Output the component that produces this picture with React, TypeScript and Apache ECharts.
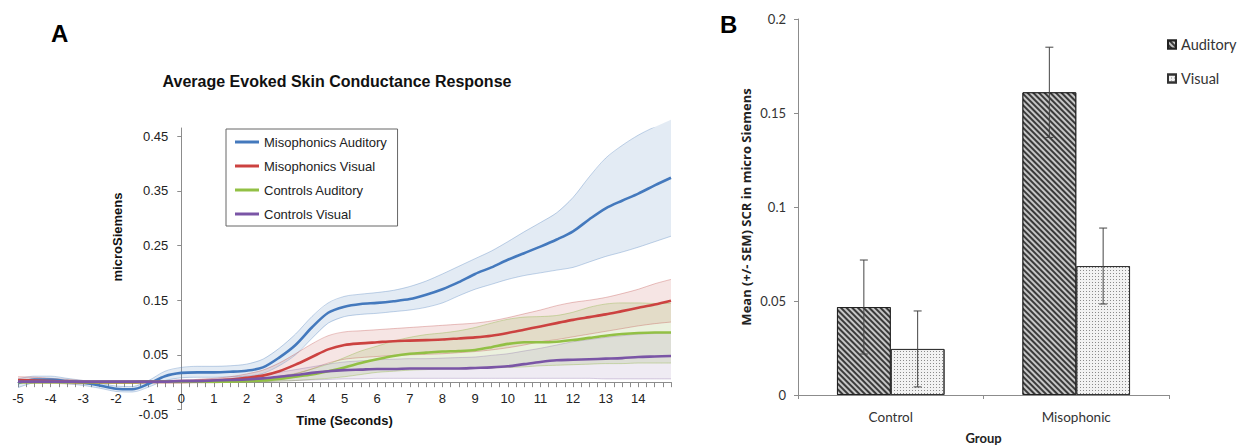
import React, { useEffect, useRef } from 'react';
import * as echarts from 'echarts';

// ---------- Panel A data (seconds, microSiemens) ----------
const time = [-5, -4.5, -4, -3.5, -3, -2.5, -2, -1.5, -1, -0.5, 0, 0.5, 1, 1.5, 2, 2.5, 3, 3.5, 4, 4.5, 5, 5.5, 6, 6.5, 7, 7.5, 8, 8.5, 9, 9.5, 10, 10.5, 11, 11.5, 12, 12.5, 13, 13.5, 14, 14.5, 15];

const misoAud = [-0.002, 0.005, 0.005, 0.002, -0.001, -0.006, -0.012, -0.013, -0.003, 0.011, 0.017, 0.018, 0.018, 0.019, 0.021, 0.027, 0.045, 0.068, 0.1, 0.127, 0.138, 0.143, 0.145, 0.148, 0.152, 0.16, 0.17, 0.183, 0.198, 0.21, 0.224, 0.236, 0.248, 0.261, 0.276, 0.298, 0.318, 0.332, 0.345, 0.36, 0.374];
const misoAudHigh = [0.006, 0.011, 0.011, 0.007, 0.003, -0.002, -0.007, -0.008, 0.003, 0.02, 0.027, 0.029, 0.029, 0.03, 0.033, 0.042, 0.062, 0.088, 0.12, 0.145, 0.157, 0.161, 0.164, 0.168, 0.175, 0.185, 0.198, 0.212, 0.226, 0.24, 0.257, 0.275, 0.292, 0.31, 0.338, 0.376, 0.41, 0.433, 0.452, 0.467, 0.48];
const misoAudLow = [-0.01, -0.001, 0.0, -0.003, -0.006, -0.011, -0.017, -0.018, -0.009, 0.003, 0.008, 0.009, 0.009, 0.01, 0.011, 0.016, 0.03, 0.05, 0.08, 0.108, 0.12, 0.124, 0.126, 0.129, 0.132, 0.137, 0.145, 0.158, 0.17, 0.179, 0.188, 0.195, 0.2, 0.205, 0.21, 0.22, 0.23, 0.238, 0.247, 0.257, 0.267];

const misoVis = [0.004, 0.003, 0.002, 0.001, 0.0, 0.0, 0.0, 0.0, 0.001, 0.001, 0.001, 0.002, 0.003, 0.005, 0.008, 0.012, 0.02, 0.032, 0.046, 0.06, 0.068, 0.071, 0.073, 0.075, 0.076, 0.077, 0.078, 0.08, 0.082, 0.085, 0.09, 0.096, 0.102, 0.108, 0.114, 0.119, 0.124, 0.13, 0.136, 0.142, 0.149];
const misoVisHigh = [0.01, 0.009, 0.007, 0.005, 0.003, 0.002, 0.002, 0.002, 0.003, 0.003, 0.004, 0.005, 0.007, 0.01, 0.015, 0.022, 0.035, 0.052, 0.07, 0.085, 0.092, 0.094, 0.096, 0.098, 0.1, 0.102, 0.104, 0.106, 0.108, 0.112, 0.118, 0.125, 0.132, 0.14, 0.146, 0.15, 0.155, 0.162, 0.17, 0.18, 0.188];
const misoVisLow = [-0.002, -0.002, -0.002, -0.003, -0.003, -0.002, -0.002, -0.002, -0.002, -0.002, -0.002, -0.001, -0.001, 0.0, 0.001, 0.004, 0.008, 0.015, 0.024, 0.035, 0.042, 0.045, 0.047, 0.049, 0.05, 0.051, 0.052, 0.054, 0.056, 0.059, 0.063, 0.068, 0.074, 0.078, 0.083, 0.088, 0.093, 0.098, 0.103, 0.107, 0.11];

const ctrlAud = [0.0, 0.0, 0.0, 0.0, 0.0, 0.0, 0.0, 0.0, 0.001, 0.001, 0.001, 0.001, 0.001, 0.001, 0.002, 0.003, 0.006, 0.01, 0.014, 0.02, 0.027, 0.035, 0.042, 0.048, 0.052, 0.054, 0.056, 0.057, 0.059, 0.064, 0.07, 0.073, 0.073, 0.074, 0.077, 0.081, 0.085, 0.088, 0.09, 0.091, 0.091];
const ctrlAudHigh = [0.002, 0.002, 0.002, 0.002, 0.002, 0.002, 0.002, 0.002, 0.003, 0.003, 0.003, 0.003, 0.003, 0.004, 0.005, 0.007, 0.011, 0.016, 0.024, 0.033, 0.045, 0.057, 0.066, 0.075, 0.082, 0.087, 0.09, 0.094, 0.1, 0.108, 0.115, 0.119, 0.12, 0.122, 0.128, 0.137, 0.143, 0.145, 0.145, 0.144, 0.144];
const ctrlAudLow = [-0.001, -0.001, -0.001, -0.001, -0.001, -0.001, -0.001, -0.001, -0.001, -0.001, -0.001, -0.001, -0.001, 0.0, 0.0, 0.001, 0.002, 0.003, 0.005, 0.007, 0.01, 0.014, 0.018, 0.02, 0.022, 0.023, 0.024, 0.024, 0.025, 0.026, 0.027, 0.028, 0.03, 0.031, 0.032, 0.033, 0.034, 0.034, 0.035, 0.035, 0.035];

const ctrlVis = [0.001, 0.001, 0.001, 0.001, 0.001, 0.001, 0.001, 0.001, 0.001, 0.001, 0.002, 0.002, 0.003, 0.004, 0.005, 0.007, 0.01, 0.013, 0.017, 0.02, 0.022, 0.023, 0.024, 0.024, 0.025, 0.025, 0.025, 0.025, 0.026, 0.027, 0.029, 0.033, 0.037, 0.04, 0.041, 0.042, 0.043, 0.044, 0.046, 0.047, 0.048];
const ctrlVisHigh = [0.003, 0.003, 0.003, 0.003, 0.003, 0.003, 0.003, 0.003, 0.003, 0.003, 0.004, 0.005, 0.006, 0.007, 0.01, 0.013, 0.018, 0.023, 0.028, 0.033, 0.037, 0.039, 0.041, 0.042, 0.043, 0.043, 0.044, 0.045, 0.046, 0.049, 0.052, 0.057, 0.062, 0.068, 0.074, 0.078, 0.082, 0.085, 0.088, 0.089, 0.09];
const ctrlVisLow = [-0.001, -0.001, -0.001, -0.001, -0.001, -0.001, -0.001, -0.001, -0.001, -0.001, 0.0, 0.0, 0.0, 0.0, 0.0, 0.001, 0.002, 0.003, 0.004, 0.005, 0.006, 0.006, 0.007, 0.007, 0.007, 0.007, 0.007, 0.007, 0.007, 0.007, 0.007, 0.007, 0.007, 0.007, 0.007, 0.007, 0.006, 0.006, 0.006, 0.006, 0.006];

const seriesNamesA = ['Misophonics Auditory', 'Misophonics Visual', 'Controls Auditory', 'Controls Visual'];
const xLabelsA = [-5, -4, -3, -2, -1, 0, 1, 2, 3, 4, 5, 6, 7, 8, 9, 10, 11, 12, 13, 14];
const yLabelsA = [-0.05, 0.05, 0.15, 0.25, 0.35, 0.45];

// ---------- Panel B data ----------
const groups = ['Control', 'Misophonic'];
const auditoryMean = [0.0468, 0.161];
const auditorySem = [0.025, 0.024];
const visualMean = [0.0245, 0.0686];
const visualSem = [0.0202, 0.0202];

const FONT_A = 'Liberation Sans, Arial, sans-serif';
const FONT_B = 'Lato, Open Sans, sans-serif';

// Panel A layout
const X_MIN = -5, X_MAX = 15, Y_MIN = -0.05, Y_MAX = 0.465;
const GA = { left: 18, top: 128, width: 653, height: 281.5 };
// offsets that move the axes onto the zero lines of the other axis
const Y_AXIS_OFFSET = -GA.width * (0 - X_MIN) / (X_MAX - X_MIN);
const X_AXIS_OFFSET = -GA.height * (0 - Y_MIN) / (Y_MAX - Y_MIN);

const pairs = (vals: number[]) => time.map((t, i) => [t, vals[i]]);

function band(key: string, low: number[], high: number[], edge: string, fill: string) {
  const edgeLine = (name: string, vals: number[]) => ({
    type: 'line',
    name,
    xAxisIndex: 0,
    yAxisIndex: 0,
    data: pairs(vals),
    symbol: 'none',
    smooth: 0.3,
    silent: true,
    lineStyle: { color: edge, width: 1 },
    z: 2,
  });
  return [
    {
      type: 'custom',
      name: key + ' band',
      xAxisIndex: 0,
      yAxisIndex: 0,
      silent: true,
      z: 1,
      data: time.map((t, i) => [t, low[i], high[i]]),
      encode: { x: 0, y: [1, 2] },
      renderItem: (params: any, api: any) => {
        if (params.dataIndex !== 0) return null;
        const upper = time.map((t, i) => api.coord([t, high[i]]));
        const lower = time.map((t, i) => api.coord([t, low[i]])).reverse();
        return {
          type: 'polygon',
          shape: { points: upper.concat(lower) },
          style: { fill, stroke: 'none' },
        };
      },
    },
    edgeLine(key + ' low', low),
    edgeLine(key + ' high', high),
  ];
}

function meanLine(name: string, vals: number[], color: string) {
  return {
    type: 'line',
    name,
    xAxisIndex: 0,
    yAxisIndex: 0,
    data: pairs(vals),
    symbol: 'none',
    smooth: 0.3,
    lineStyle: { color, width: 2.6 },
    itemStyle: { color },
    z: 3,
  };
}

export default function App() {
  const ref = useRef<HTMLDivElement>(null);

  useEffect(() => {
    if (!ref.current) return;
    const chart = echarts.init(ref.current, null, { renderer: 'svg' });

    const errData = [
      ...groups.map((_, i) => [i, auditoryMean[i] - auditorySem[i], auditoryMean[i] + auditorySem[i], -1]),
      ...groups.map((_, i) => [i, visualMean[i] - visualSem[i], visualMean[i] + visualSem[i], 1]),
    ];

    const axisGrey = '#8c8c8c';

    const option: any = {
      animation: false,
      backgroundColor: '#ffffff',
      graphic: [
        { type: 'text', x: 51, y: 33, style: { text: 'A', font: `bold 24px ${FONT_A}`, fill: '#000', textVerticalAlign: 'middle' } },
        { type: 'text', x: 337, y: 81, style: { text: 'Average Evoked Skin Conductance Response', font: `bold 16px ${FONT_A}`, fill: '#111', textAlign: 'center', textVerticalAlign: 'middle' } },
        { type: 'text', x: 117, y: 237, rotation: Math.PI / 2, style: { text: 'microSiemens', font: `bold 13px ${FONT_A}`, fill: '#111', textAlign: 'center', textVerticalAlign: 'middle' } },
        { type: 'text', x: 720, y: 24, style: { text: 'B', font: `bold 24px ${FONT_A}`, fill: '#000', textVerticalAlign: 'middle' } },
      ],
      legend: [
        {
          data: seriesNamesA,
          orient: 'vertical',
          left: 226,
          top: 129,
          padding: [6, 10, 5, 9],
          icon: 'rect',
          itemWidth: 24,
          itemHeight: 3,
          itemGap: 10,
          borderColor: '#666',
          borderWidth: 1,
          selectedMode: false,
          textStyle: { fontFamily: FONT_A, fontSize: 13, color: '#222', lineHeight: 14 },
        },
        {
          data: ['Auditory', 'Visual'],
          orient: 'vertical',
          left: 1167,
          top: 37,
          padding: 0,
          icon: 'rect',
          itemWidth: 8,
          itemHeight: 8,
          itemGap: 19,
          selectedMode: false,
          textStyle: { fontFamily: FONT_B, fontSize: 14.5, color: '#333', lineHeight: 14 },
        },
      ],
      grid: [
        { ...GA, outerBoundsMode: 'none', containLabel: false },
        { left: 798, top: 19, width: 371, height: 376, outerBoundsMode: 'none', containLabel: false },
      ],
      xAxis: [
        {
          type: 'value',
          gridIndex: 0,
          min: X_MIN,
          max: X_MAX,
          interval: 1,
          offset: X_AXIS_OFFSET,
          axisLine: { onZero: false, lineStyle: { color: axisGrey, width: 1 } },
          axisTick: { show: true, length: 5, lineStyle: { color: axisGrey } },
          minorTick: { show: true, splitNumber: 4, length: 5, lineStyle: { color: axisGrey } },
          splitLine: { show: false },
          axisLabel: { customValues: xLabelsA, fontFamily: FONT_A, fontSize: 13, color: '#222', margin: 10 },
          name: 'Time (Seconds)',
          nameLocation: 'middle',
          nameGap: 32,
          nameTextStyle: { fontFamily: FONT_A, fontSize: 13, fontWeight: 'bold', color: '#111' },
        },
        {
          type: 'category',
          gridIndex: 1,
          data: groups,
          axisLine: { lineStyle: { color: axisGrey } },
          axisTick: { show: true, length: 4, lineStyle: { color: axisGrey } },
          axisLabel: { fontFamily: FONT_B, fontSize: 13.5, color: '#333', margin: 15 },
          name: 'Group',
          nameLocation: 'middle',
          nameGap: 36,
          nameTextStyle: { fontFamily: FONT_B, fontSize: 13, fontWeight: 'bold', color: '#222' },
        },
      ],
      yAxis: [
        {
          type: 'value',
          gridIndex: 0,
          min: Y_MIN,
          max: Y_MAX,
          offset: Y_AXIS_OFFSET,
          axisLine: { show: true, onZero: false, lineStyle: { color: axisGrey } },
          axisTick: { show: true, length: 4, customValues: yLabelsA, lineStyle: { color: axisGrey } },
          splitLine: { show: false },
          axisLabel: {
            customValues: yLabelsA,
            formatter: (v: number) => (v < 0 ? `{low|${v.toFixed(2)}}` : v.toFixed(2)),
            fontFamily: FONT_A,
            fontSize: 13,
            color: '#222',
            margin: 13,
            rich: {
              low: { fontFamily: FONT_A, fontSize: 13, color: '#222', padding: [9, 0, 0, 0] },
            },
          },
        },
        {
          type: 'value',
          gridIndex: 1,
          min: 0,
          max: 0.2,
          interval: 0.05,
          axisLine: { show: true, lineStyle: { color: axisGrey } },
          axisTick: { show: true, length: 4, lineStyle: { color: axisGrey } },
          splitLine: { show: false },
          axisLabel: { fontFamily: FONT_B, fontSize: 13, color: '#333', margin: 12 },
          name: 'Mean (+/- SEM) SCR in micro Siemens',
          nameLocation: 'middle',
          nameGap: 46,
          nameTextStyle: { fontFamily: 'Open Sans, Lato, sans-serif', fontSize: 13, fontWeight: 'bold', color: '#222' },
        },
      ],
      series: [
        ...band('MA', misoAudLow, misoAudHigh, 'rgba(79,129,189,0.35)', 'rgba(79,129,189,0.16)'),
        ...band('MV', misoVisLow, misoVisHigh, 'rgba(192,80,77,0.35)', 'rgba(192,80,77,0.15)'),
        ...band('CA', ctrlAudLow, ctrlAudHigh, 'rgba(155,187,89,0.45)', 'rgba(155,187,89,0.2)'),
        ...band('CV', ctrlVisLow, ctrlVisHigh, 'rgba(128,100,162,0.3)', 'rgba(128,100,162,0.13)'),
        meanLine(seriesNamesA[0], misoAud, '#4479bd'),
        meanLine(seriesNamesA[1], misoVis, '#cc4240'),
        meanLine(seriesNamesA[2], ctrlAud, '#92c045'),
        meanLine(seriesNamesA[3], ctrlVis, '#7a55a6'),
        {
          type: 'bar',
          name: 'Auditory',
          xAxisIndex: 1,
          yAxisIndex: 1,
          data: auditoryMean,
          barWidth: '29%',
          barGap: '0%',
          itemStyle: {
            color: '#3a3a3a',
            borderColor: '#222',
            borderWidth: 1,
            decal: {
              symbol: 'rect',
              symbolSize: 1,
              color: 'rgba(205,205,205,0.95)',
              backgroundColor: '#333333',
              dashArrayX: [1, 0],
              dashArrayY: [1.1, 1.9],
              rotation: Math.PI / 4,
            },
          },
        },
        {
          type: 'bar',
          name: 'Visual',
          xAxisIndex: 1,
          yAxisIndex: 1,
          data: visualMean,
          barWidth: '29%',
          barGap: '0%',
          itemStyle: {
            color: '#f2f2f2',
            borderColor: '#333',
            borderWidth: 1,
            decal: {
              symbol: 'rect',
              symbolSize: 1,
              color: '#8a8a8a',
              backgroundColor: '#f7f7f7',
              dashArrayX: [1, 2],
              dashArrayY: [1, 2],
              rotation: 0,
            },
          },
        },
        {
          type: 'custom',
          name: 'SEM',
          xAxisIndex: 1,
          yAxisIndex: 1,
          data: errData,
          silent: true,
          z: 5,
          renderItem: (params: any, api: any) => {
            const c = api.value(0);
            const lo = api.value(1);
            const hi = api.value(2);
            const side = api.value(3);
            const bandW = api.size([1, 0])[0];
            const pLo = api.coord([c, lo]);
            const pHi = api.coord([c, hi]);
            const x = pLo[0] + side * bandW * 0.145;
            const cap = 4;
            const st = { stroke: '#454545', lineWidth: 1 };
            return {
              type: 'group',
              children: [
                { type: 'line', shape: { x1: x, y1: pHi[1], x2: x, y2: pLo[1] }, style: st },
                { type: 'line', shape: { x1: x - cap, y1: pHi[1], x2: x + cap, y2: pHi[1] }, style: st },
                { type: 'line', shape: { x1: x - cap, y1: pLo[1], x2: x + cap, y2: pLo[1] }, style: st },
              ],
            };
          },
        },
      ],
    };

    chart.setOption(option);
    return () => chart.dispose();
  }, []);

  return (
    <div
      ref={ref}
      style={{ position: 'fixed', left: 0, top: 0, width: 1244, height: 447, background: '#fff' }}
    />
  );
}
